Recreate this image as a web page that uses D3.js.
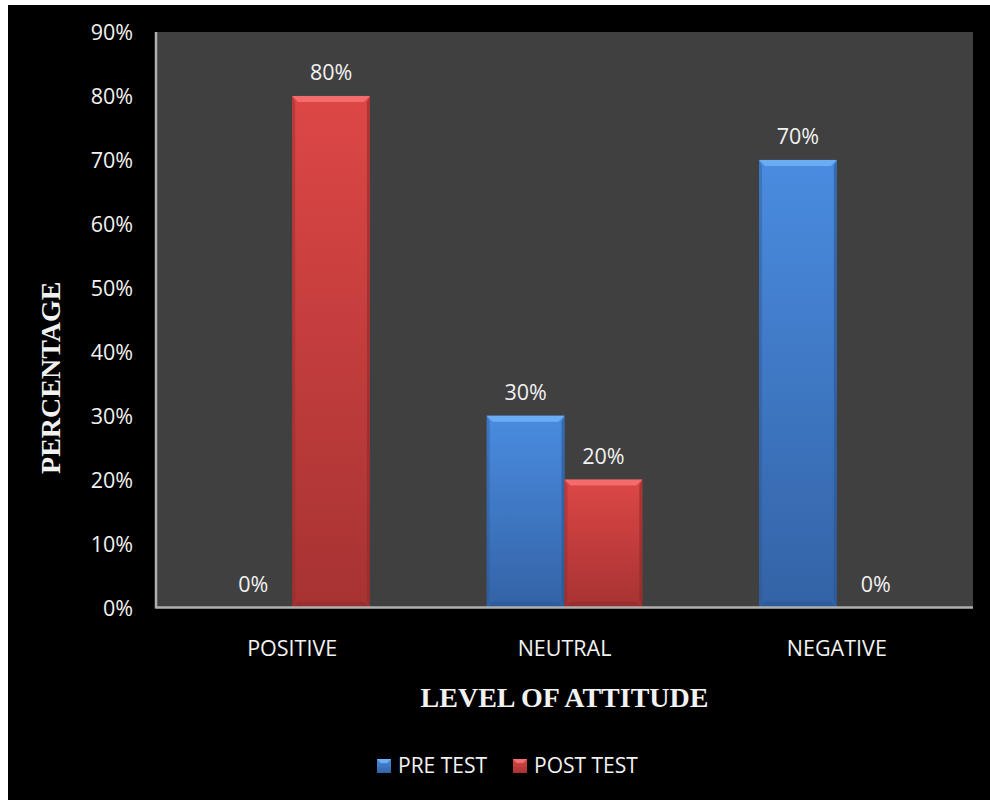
<!DOCTYPE html>
<html>
<head>
<meta charset="utf-8">
<script src="https://cdn.jsdelivr.net/npm/d3@7"></script>
<style>
  html, body { margin: 0; padding: 0; background: #fff; }
  svg { display: block; }
  text { font-family: "Open Sans", "Noto Sans", sans-serif; fill: #f2f2f2; }
</style>
</head>
<body>
<div class="content"></div>
<script>
var size = {width: 990, height: 800};
var plot = {left: 156, right: 973, top: 32, bottom: 607.5};

var categories = ["POSITIVE", "NEUTRAL", "NEGATIVE"];
var seriesNames = ["PRE TEST", "POST TEST"];
var preTest = [0, 30, 70];
var postTest = [80, 20, 0];
var yTicks = [0, 10, 20, 30, 40, 50, 60, 70, 80, 90];

var colors = {
  "PRE TEST": {top: "#4a8ce0", bottom: "#3363a6", light: "#6fb0f5", dark: "#2a5590"},
  "POST TEST": {top: "#dd4746", bottom: "#a63332", light: "#f47070", dark: "#8e2a29"}
};

var svg = d3.select('.content')
  .append('svg')
  .attr('width', size.width)
  .attr('height', size.height);

// black chart area, white strip top / left like the original
svg.append('rect').attr('width', size.width).attr('height', size.height).attr('fill', '#fff');
svg.append('rect').attr('x', 8).attr('y', 5)
  .attr('width', size.width - 8).attr('height', size.height - 5).attr('fill', '#000');

var defs = svg.append('defs');
seriesNames.forEach(function(s, i) {
  var g = defs.append('linearGradient').attr('id', 'grad' + i)
    .attr('x1', 0).attr('y1', 0).attr('x2', 0).attr('y2', 1);
  g.append('stop').attr('offset', '0%').attr('stop-color', colors[s].top);
  g.append('stop').attr('offset', '100%').attr('stop-color', colors[s].bottom);
});

svg.append('rect')
  .attr('x', plot.left).attr('y', plot.top)
  .attr('width', plot.right - plot.left).attr('height', plot.bottom - plot.top)
  .attr('fill', '#404040');

var x0 = d3.scaleBand().domain(categories).range([plot.left, plot.right]).paddingInner(0).paddingOuter(0);
// gap width 150% like excel
var groupW = x0.bandwidth() * 2 / 3.5;
var x1 = d3.scaleBand().domain(seriesNames).range([0, groupW]).padding(0);
var y = d3.scaleLinear().domain([0, 90]).range([plot.bottom, plot.top]);

// y axis labels
var yAxis = d3.axisLeft(y).tickValues(yTicks).tickSize(0).tickPadding(0)
  .tickFormat(function(d) { return d + '%'; });
var yg = svg.append('g').attr('transform', 'translate(133,0)').call(yAxis);
yg.select('.domain').remove();
yg.selectAll('text').attr('font-size', '21.5px').attr('fill', '#f2f2f2')
  .attr('font-family', '"Open Sans", sans-serif').attr('dy', '0.35em');

// x axis labels
var xAxis = d3.axisBottom(x0).tickSize(0).tickPadding(0);
var xg = svg.append('g').attr('transform', 'translate(0,' + 640 + ')').call(xAxis);
xg.select('.domain').remove();
xg.selectAll('text').attr('font-size', '21.5px').attr('fill', '#f2f2f2')
  .attr('font-family', '"Open Sans", sans-serif').attr('dy', '0.75em');

var rows = [];
categories.forEach(function(c, i) {
  rows.push({cat: c, series: "PRE TEST", value: preTest[i]});
  rows.push({cat: c, series: "POST TEST", value: postTest[i]});
});

function barX(d) { return x0(d.cat) + (x0.bandwidth() - groupW) / 2 + x1(d.series); }

var bars = svg.append('g').selectAll('g').data(rows.filter(function(d) { return d.value > 0; }))
  .enter().append('g');

var bw = x1.bandwidth();
var bev = 6;
bars.append('rect')
  .attr('x', barX)
  .attr('y', function(d) { return y(d.value); })
  .attr('width', bw)
  .attr('height', function(d) { return y(0) - y(d.value); })
  .attr('fill', function(d) { return 'url(#grad' + seriesNames.indexOf(d.series) + ')'; });
// bevel: top highlight
bars.append('path')
  .attr('d', function(d) {
    var xa = barX(d), ya = y(d.value);
    return 'M' + xa + ',' + ya + 'L' + (xa + bw) + ',' + ya + 'L' + (xa + bw - bev) + ',' + (ya + bev) +
      'L' + (xa + bev) + ',' + (ya + bev) + 'Z';
  })
  .attr('fill', function(d) { return colors[d.series].light; }).attr('opacity', 0.9);
// bevel: sides and bottom shading
bars.append('path')
  .attr('d', function(d) {
    var xa = barX(d), ya = y(d.value), yb = y(0);
    return 'M' + (xa + bw) + ',' + ya + 'L' + (xa + bw) + ',' + yb + 'L' + (xa + bw - 3) + ',' + (yb - bev) +
      'L' + (xa + bw - 3) + ',' + (ya + bev) + 'Z';
  })
  .attr('fill', function(d) { return colors[d.series].dark; }).attr('opacity', 0.6);
bars.append('path')
  .attr('d', function(d) {
    var xa = barX(d), ya = y(d.value), yb = y(0);
    return 'M' + xa + ',' + ya + 'L' + xa + ',' + yb + 'L' + (xa + 3) + ',' + (yb - bev) +
      'L' + (xa + 3) + ',' + (ya + bev) + 'Z';
  })
  .attr('fill', function(d) { return colors[d.series].dark; }).attr('opacity', 0.4);
bars.append('path')
  .attr('d', function(d) {
    var xa = barX(d), yb = y(0);
    return 'M' + xa + ',' + yb + 'L' + (xa + bw) + ',' + yb + 'L' + (xa + bw - bev) + ',' + (yb - bev) +
      'L' + (xa + bev) + ',' + (yb - bev) + 'Z';
  })
  .attr('fill', function(d) { return colors[d.series].dark; }).attr('opacity', 0.5);

// value labels
svg.append('g').selectAll('text').data(rows).enter().append('text')
  .attr('x', function(d) { return barX(d) + bw / 2; })
  .attr('y', function(d) { return y(d.value) - 16; })
  .attr('text-anchor', 'middle')
  .attr('font-size', '21.5px')
  .text(function(d) { return d.value + '%'; });

// axis lines
svg.append('line').attr('x1', plot.left).attr('x2', plot.left)
  .attr('y1', plot.top).attr('y2', plot.bottom + 1)
  .attr('stroke', '#b0b0b0').attr('stroke-width', 2.5);
svg.append('line').attr('x1', plot.left).attr('x2', plot.right)
  .attr('y1', plot.bottom).attr('y2', plot.bottom)
  .attr('stroke', '#b0b0b0').attr('stroke-width', 2.5);

// axis titles
svg.append('text')
  .attr('x', (plot.left + plot.right) / 2).attr('y', 707)
  .attr('text-anchor', 'middle')
  .style('font-family', '"Liberation Serif", "Times New Roman", serif')
  .attr('font-weight', 'bold').attr('font-size', '28px')
  .attr('fill', '#f7f7f7')
  .text('LEVEL OF ATTITUDE');
svg.append('text')
  .attr('transform', 'translate(60,' + ((plot.top + plot.bottom) / 2 + 58) + ') rotate(-90)')
  .attr('text-anchor', 'middle')
  .style('font-family', '"Liberation Serif", "Times New Roman", serif')
  .attr('font-weight', 'bold').attr('font-size', '28px')
  .attr('fill', '#f7f7f7')
  .text('PERCENTAGE');

// legend
var legendX = [377, 513];
var legend = svg.append('g').selectAll('g').data(seriesNames).enter().append('g')
  .attr('transform', function(d, i) { return 'translate(' + legendX[i] + ',759)'; });
legend.append('rect').attr('width', 14).attr('height', 14)
  .attr('fill', function(d, i) { return 'url(#grad' + i + ')'; });
legend.append('path').attr('d', 'M0,0L14,0L10,4L4,4Z')
  .attr('fill', function(d) { return colors[d].light; });
legend.append('text').attr('x', 21).attr('y', 7).attr('dy', '0.35em')
  .attr('font-size', '21px')
  .text(function(d) { return d; });
</script>
</body>
</html>
